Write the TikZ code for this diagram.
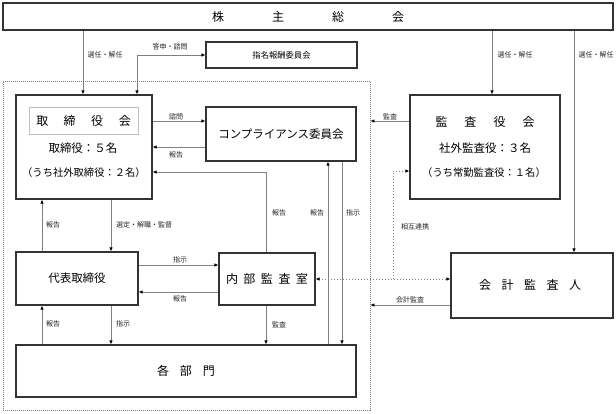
\documentclass[tikz,border=0pt]{standalone}
\usepackage{fontspec}
\setmainfont{Noto Sans CJK JP}
\usetikzlibrary{arrows.meta}
\begin{document}
\begin{tikzpicture}[x=1pt,y=-1pt,
 box/.style={draw=black!80, line width=1.1pt, inner sep=0pt, fill=white},
 conn/.style={draw=black!50, line width=0.8pt},
 tip/.tip={Latex[length=4pt,width=3.5pt,color=black]},
 arr/.style={conn, -tip},
 dotconn/.style={draw=black!50, line width=0.9pt, dash pattern=on 1.2pt off 1.8pt},
 lbl/.style={font=\fontsize{7}{8}\selectfont, text=black!85, inner sep=0pt},
 big/.style={font=\fontsize{12}{14}\selectfont, inner sep=0pt},
 mid/.style={font=\fontsize{11.5}{13}\selectfont, inner sep=0pt},
 sml/.style={font=\fontsize{10.3}{12}\selectfont, inner sep=0pt},
 ]
\useasboundingbox (0,0) rectangle (616,413);
\fill[white] (0,0) rectangle (616,413);
% group boundary
\node[draw=black!50, line width=0.8pt, dash pattern=on 1pt off 1pt, minimum width=367pt, minimum height=329pt, inner sep=0pt] (group) at (186.5,245.5) {};
% boxes
\node[box, minimum width=610pt, minimum height=27pt] (top) at (308,16.5) {};
\node[big] (toptext) at (308,16.5) {株\hspace{48pt}主\hspace{48pt}総\hspace{48pt}会};
\node[box, minimum width=151pt, minimum height=26pt, font=\fontsize{8.3}{10}\selectfont] (shimei) at (281.5,55) {指名報酬委員会};
\node[box, minimum width=136pt, minimum height=104pt] (tori) at (84,147) {};
\node[draw=black!25, line width=0.9pt, minimum width=109pt, minimum height=27pt, inner sep=0pt, big] (toriin) at (83.5,120.5) {取\hspace{15.5pt}締\hspace{15.5pt}役\hspace{15.5pt}会};
\node[mid] (tori2) at (83,148) {取締役：５名};
\node[sml] (tori3) at (84,173) {（うち社外取締役：２名）};
\node[box, minimum width=150pt, minimum height=54pt, mid] (comp) at (281,134) {コンプライアンス委員会};
\node[box, minimum width=150pt, minimum height=104pt] (kansa) at (485,147) {};
\node[big] (kansa1) at (485,122) {監\hspace{17pt}査\hspace{17pt}役\hspace{17pt}会};
\node[mid] (kansa2) at (485,148) {社外監査役：３名};
\node[sml] (kansa3) at (484,173) {（うち常勤監査役：１名）};
\node[box, minimum width=122pt, minimum height=53pt, mid] (daihyo) at (77,278.5) {代表取締役};
\node[box, minimum width=96pt, minimum height=52pt, big] (naibu) at (267,279) {内\hspace{5.5pt}部\hspace{5.5pt}監\hspace{5.5pt}査\hspace{5.5pt}室};
\node[box, minimum width=162pt, minimum height=65pt] (kaikei) at (532,285.5) {};
\node[big] (kaikeit) at (530,285) {会\hspace{10.5pt}計\hspace{10.5pt}監\hspace{10.5pt}査\hspace{10.5pt}人};
\node[box, minimum width=340pt, minimum height=52pt, big] (bumon) at (186,371) {各\hspace{11pt}部\hspace{11pt}門};
% connectors from shareholders
\draw[arr] (top.south -| 83,0) -- (tori.north -| 83,0);
\draw[arr] (top.south -| 492,0) -- (kansa.north -| 492,0);
\draw[arr] (top.south -| 574,0) -- (kaikei.north -| 574,0);
\node[lbl] at (105,55) {選任・解任};
\node[lbl] at (515,55) {選任・解任};
\node[lbl] at (596,55) {選任・解任};
% nomination committee
\draw[conn, tip-tip] (tori.north -| 137,0) |- (shimei.west);
\node[lbl] at (170,47) {答申・諮問};
% board <-> compliance
\draw[arr] (tori.east |- 0,121) -- (comp.west |- 0,121);
\node[lbl] at (176,116.5) {諮問};
\draw[arr] (comp.west |- 0,147) -- (tori.east |- 0,147);
\node[lbl] at (176,155) {報告};
\draw[arr] (naibu.north -| 266,0) |- (tori.east |- 0,172);
\node[lbl] at (279,213) {報告};
\draw[arr] (bumon.north -| 328,0) -- (comp.south -| 328,0);
\node[lbl] at (317,213) {報告};
\draw[arr] (comp.south -| 342,0) -- (bumon.north -| 342,0);
\node[lbl] at (353,213) {指示};
% audit board
\draw[arr] (kansa.west |- 0,121) -- (group.east |- 0,121);
\node[lbl] at (390,117) {監査};
% board <-> representative
\draw[arr] (daihyo.north -| 42,0) -- (tori.south -| 42,0);
\node[lbl] at (53,225) {報告};
\draw[arr] (tori.south -| 111,0) -- (daihyo.north -| 111,0);
\node[lbl] at (144,225) {選定・解職・監督};
% representative <-> internal audit
\draw[arr] (daihyo.east |- 0,265) -- (naibu.west |- 0,265);
\node[lbl] at (180,260) {指示};
\draw[arr] (naibu.west |- 0,292) -- (daihyo.east |- 0,292);
\node[lbl] at (180,298.5) {報告};
% to departments
\draw[arr] (bumon.north -| 42,0) -- (daihyo.south -| 42,0);
\node[lbl] at (53,324) {報告};
\draw[arr] (daihyo.south -| 111,0) -- (bumon.north -| 111,0);
\node[lbl] at (123,324) {指示};
\draw[arr] (naibu.south -| 266,0) -- (bumon.north -| 266,0);
\node[lbl] at (279,325) {監査};
% accounting auditor
\draw[arr] (kaikei.west |- 0,305) -- (group.east |- 0,305);
\node[lbl] at (410,300) {会計監査};
% mutual cooperation
\draw[dotconn, tip-tip] (naibu.east) -- (kaikei.west |- naibu.east);
\coordinate (jn) at (393,279);
\draw[dotconn, -tip] (jn) |- (kansa.west |- 0,171);
\node[lbl] at (415,227) {相互連携};
\end{tikzpicture}
\end{document}
